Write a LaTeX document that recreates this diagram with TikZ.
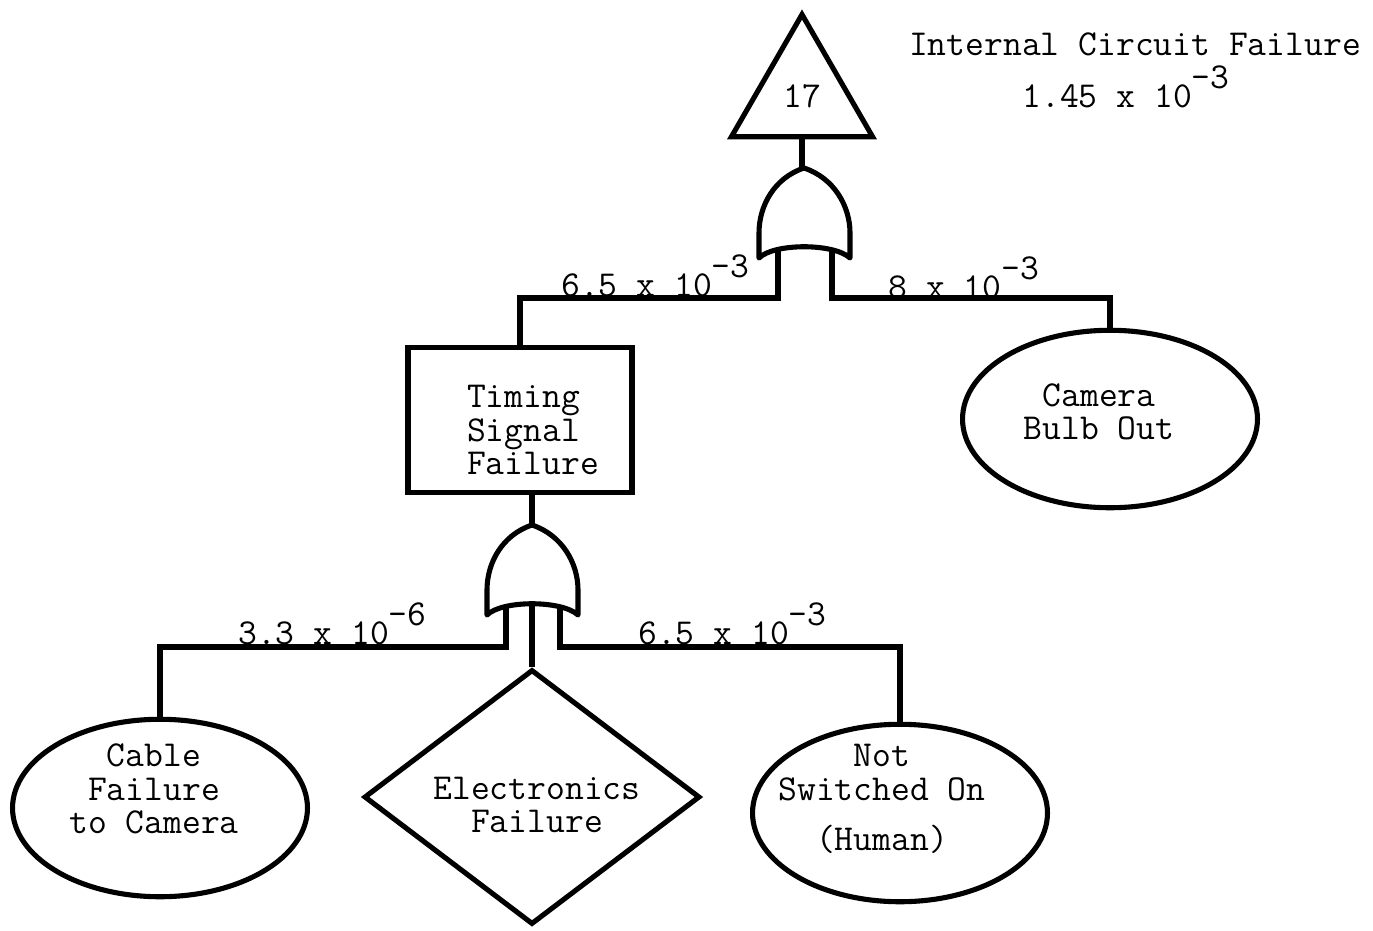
\documentclass[tikz,border=0pt]{standalone}
\usepackage{fontspec}
\usetikzlibrary{shapes.geometric}

\newcommand\pexp[1]{\raisebox{0.5em}{#1}}

\tikzset{
  ft/.style={font=\ttfamily\fontsize{20.8}{19}\selectfont},
  conn/.style={line width=2.9pt},
  event/.style={draw=black, ellipse, line width=2.9pt, minimum width=5.9cm, minimum height=3.55cm, inner sep=0pt},
  txt/.style={ft, align=center, inner sep=0pt},
  prob/.style={ft, anchor=base west, inner sep=0pt},
  pics/orgate/.style={code={
    \draw[line width=2.9pt, line join=round] (0,0) .. controls (30,10) and (46,38) .. (46,65) -- (46,90)
      .. controls (30,75) and (-30,75) .. (-45,90) -- (-45,65) .. controls (-45,38) and (-30,10) .. (0,0) -- cycle;
    \coordinate (-top) at (0,0);
    \coordinate (-in1) at (-26,82);
    \coordinate (-in2) at (28,82);
    \coordinate (-mid) at (0,79);
  }}
}

\begin{document}
\begin{tikzpicture}[x=0.02cm, y=-0.02cm]
    \useasboundingbox (0,0) rectangle (1373,930);

    % top event and its gate
    \node[draw=black, regular polygon, regular polygon sides=3, minimum size=3.26cm, inner sep=0pt, line width=2.9pt, ft] (tri) at (802,96) {17};
    \node[ft, anchor=base, inner sep=0pt] (icf) at (1135,55) {Internal Circuit Failure};
    \node[ft, anchor=base, inner sep=0pt] (icfp) at (1126,107) {1.45 x 10\pexp{-3}};
    \pic (g1) at (804,168) {orgate};

    % second level
    \node[draw=black, line width=2.9pt, minimum width=4.48cm, minimum height=2.9cm] (tsf) at (520,420) {};
    \node[txt, align=left] (tsf-t) at (533,430) {Timing\\Signal\\Failure};
    \node[event] (cbo) at (1110,419) {};
    \node[txt] (cbo-t) at (1099,412) {Camera\\Bulb Out};
    \pic (g2) at (532,525) {orgate};

    % basic events
    \node[event] (cfc) at (160,808) {};
    \node[txt] (cfc-t) at (154,789) {Cable\\Failure\\to Camera};
    \node[draw=black, diamond, line width=2.9pt, minimum width=6.72cm, minimum height=5.1cm, inner sep=0pt] (ef) at (532,797) {};
    \node[txt] (ef-t) at (537,805) {Electronics\\Failure};
    \node[event] (nso) at (900,813) {};
    \node[txt] (nso-t) at (882,799) {Not\\Switched On\\[0.34cm](Human)};

    % connections
    \draw[conn] (tri.south) -- (tri.south |- g1-top);
    \draw[conn] (g1-in1) -- ++(0,48) -| (tsf.north);
    \draw[conn] (g1-in2) -- ++(0,48) -| (cbo.north);
    \draw[conn] (tsf.south -| g2-top) -- (g2-top);
    \draw[conn] (g2-in1) -- ++(0,40) -| (cfc.north);
    \draw[conn] (g2-in2) -- ++(0,40) -| (nso.north);
    \draw[conn] (g2-mid) -- (ef.north);

    % probabilities
    \node[prob] (p1) at (561,296) {6.5 x 10\pexp{-3}};
    \node[prob] (p2) at (888,298) {8 x 10\pexp{-3}};
    \node[prob] (p3) at (238,644) {3.3 x 10\pexp{-6}};
    \node[prob] (p4) at (638,644) {6.5 x 10\pexp{-3}};
\end{tikzpicture}
\end{document}
